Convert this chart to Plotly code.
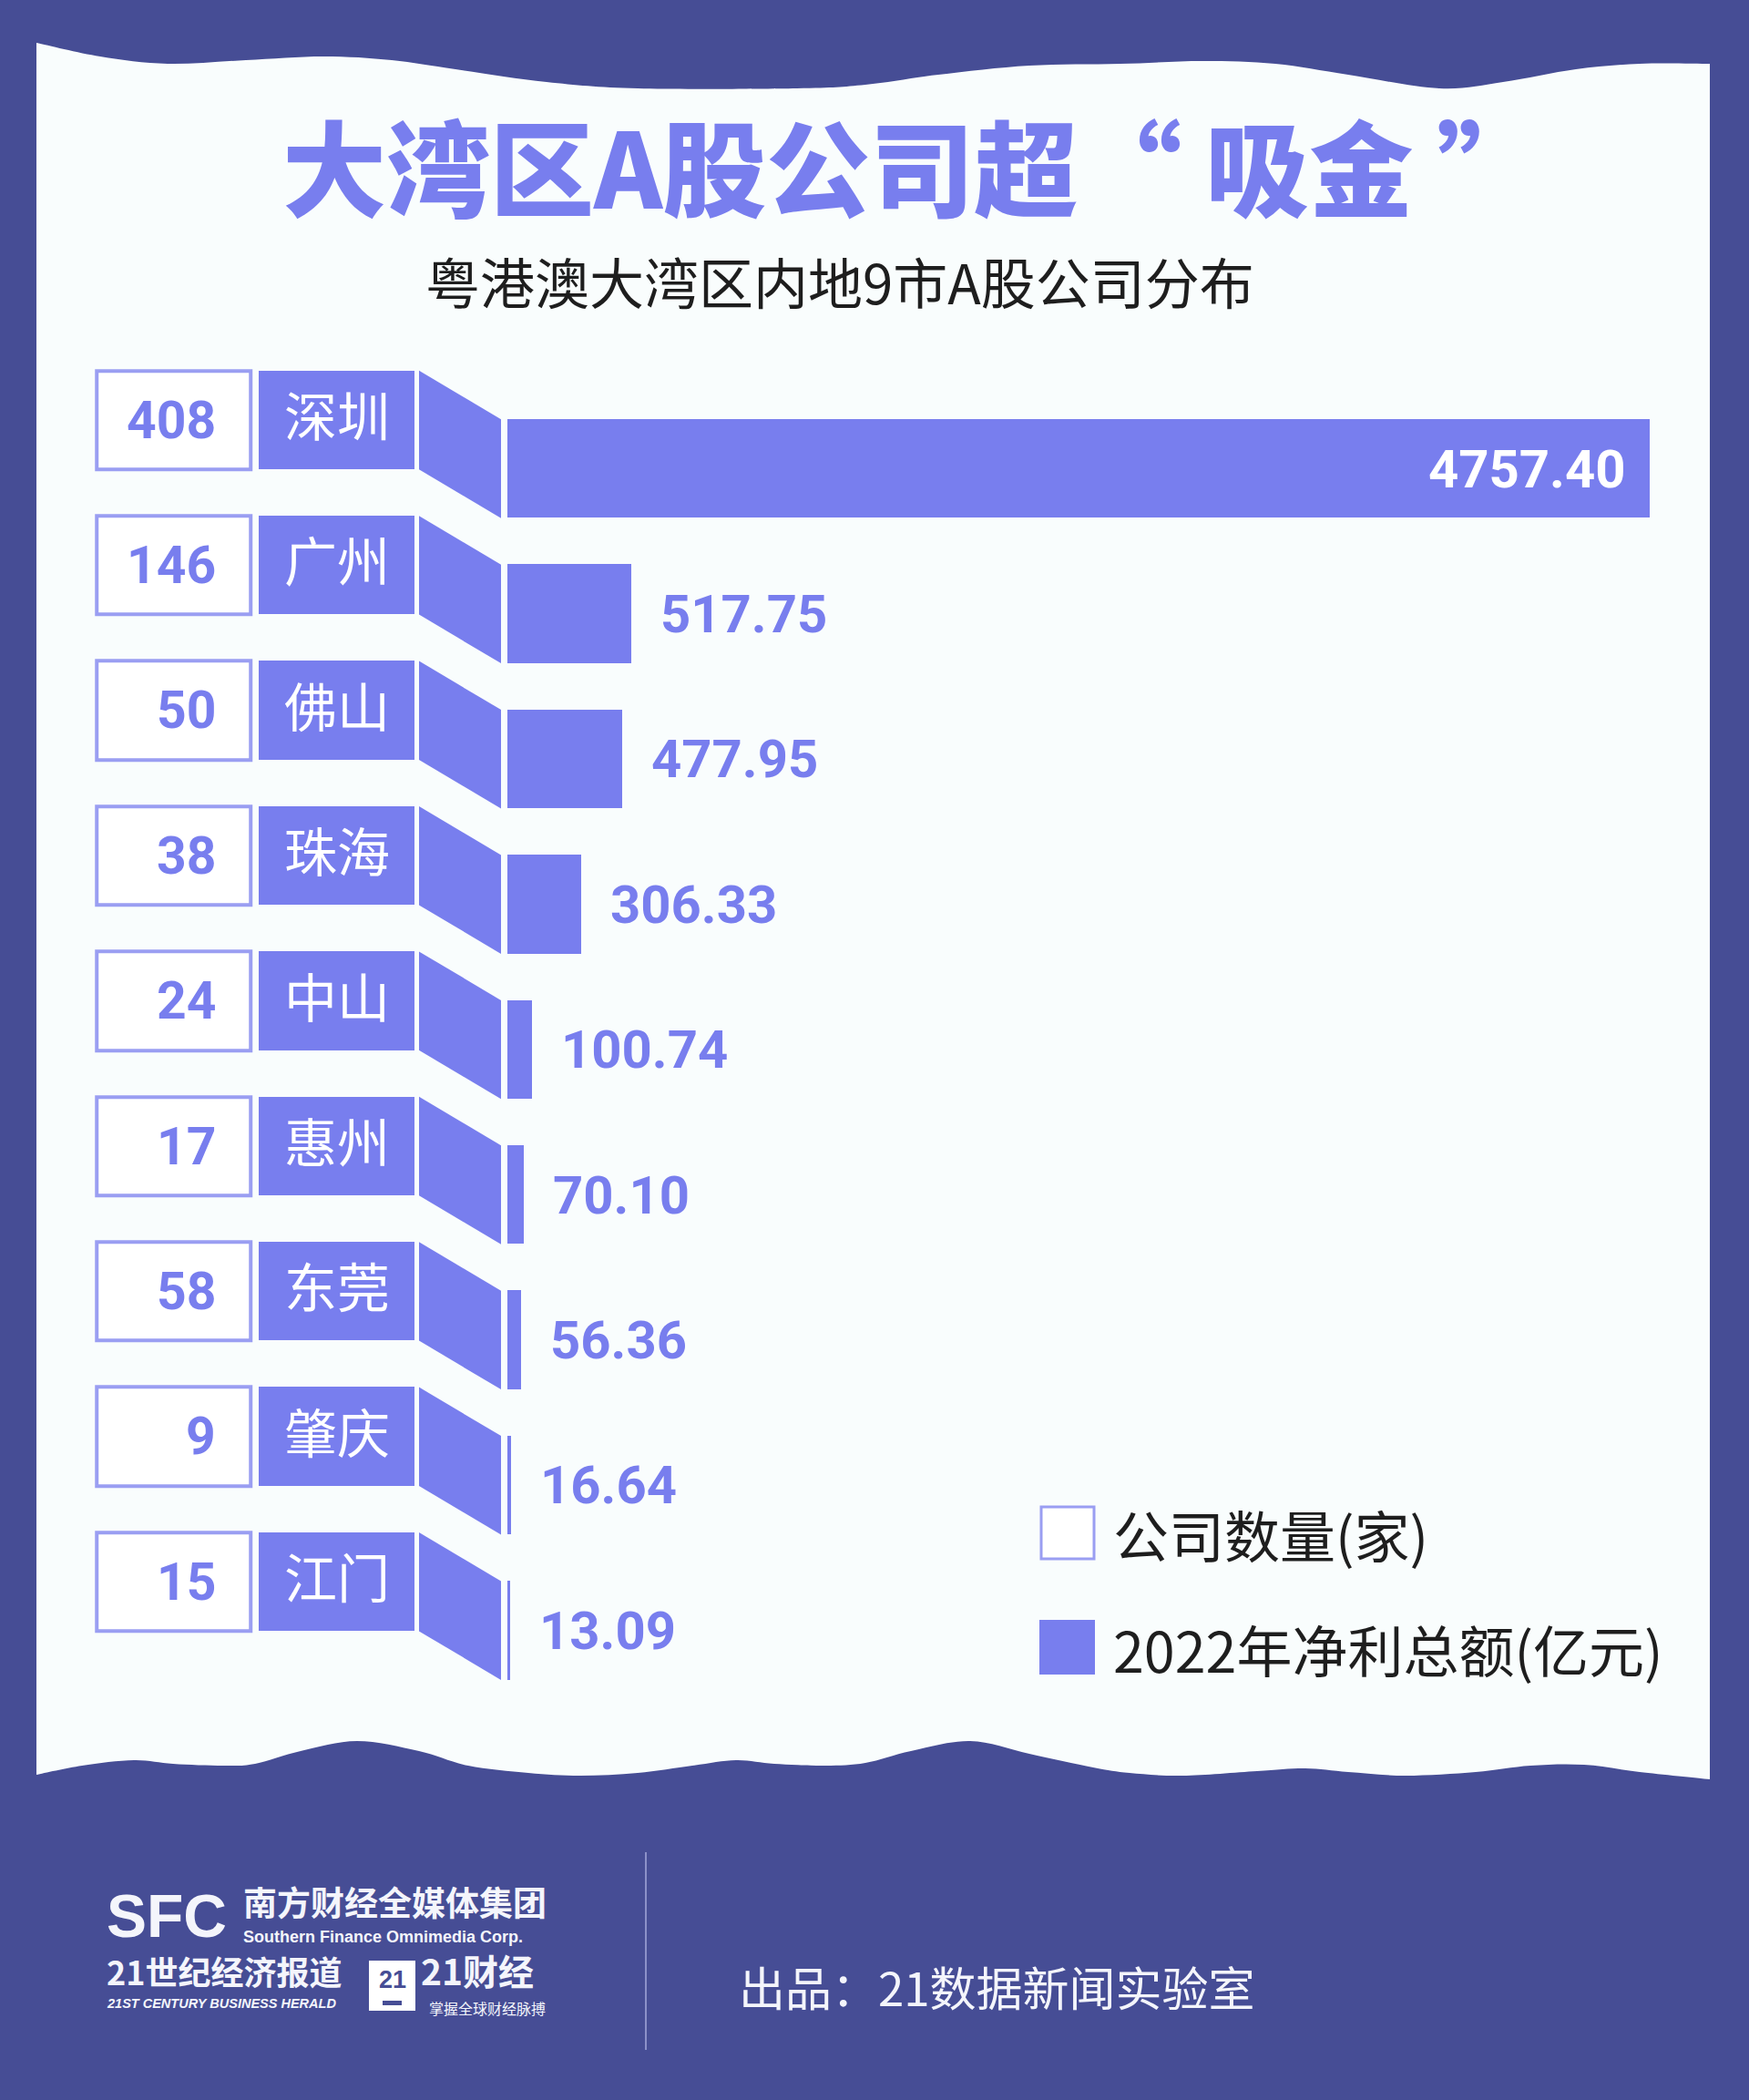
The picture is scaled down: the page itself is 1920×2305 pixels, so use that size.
import plotly.graph_objects as go

# ---------------- data ----------------
cities = ["深圳", "广州", "佛山", "珠海", "中山", "惠州", "东莞", "肇庆", "江门"]
company_counts = [408, 146, 50, 38, 24, 17, 58, 9, 15]
net_profit_2022 = [4757.40, 517.75, 477.95, 306.33, 100.74, 70.10, 56.36, 16.64, 13.09]

title_text = "大湾区A股公司超“ 吸金 ”"
subtitle_text = "粤港澳大湾区内地9市A股公司分布"
legend_labels = ["公司数量(家)", "2022年净利总额(亿元)"]
credit_text = "出品：21数据新闻实验室"

# ---------------- style ----------------
W, H = 1920, 2305
DARK = "#464D95"
PANEL = "#F9FDFD"
BAR = "#787EEE"
BOX_LINE = "#9A9EF2"
TXT = "#1E1E1E"
CJK = "Noto Sans CJK SC"
NUM = "Roboto"


def X(p):
    return p / W


def Y(p):
    return 1 - p / H


# row geometry (pixels)
ROW_PITCH = 159.4
FIRST_CENTER = 461.0
BOX_H = 0.68          # in category units
BAR_SHIFT = 53.5 / ROW_PITCH
y_top_px = FIRST_CENTER - 0.5 * ROW_PITCH
y_bot_px = y_top_px + 9.5 * ROW_PITCH

fig = go.Figure()

# number boxes
fig.add_trace(go.Bar(
    y=cities, x=[1] * len(cities), orientation="h", xaxis="x2", yaxis="y",
    width=BOX_H, marker=dict(color="#FFFFFF", line=dict(color=BOX_LINE, width=4)),
    hoverinfo="skip"))

# city boxes
fig.add_trace(go.Bar(
    y=cities, x=[1] * len(cities), orientation="h", xaxis="x3", yaxis="y",
    width=BOX_H, marker=dict(color=BAR, line=dict(width=0)), hoverinfo="skip"))

# profit bars
fig.add_trace(go.Bar(
    y=cities, x=net_profit_2022, orientation="h", xaxis="x", yaxis="y",
    width=BOX_H, offset=-BOX_H / 2 + BAR_SHIFT,
    marker=dict(color=BAR, line=dict(width=0)), hoverinfo="skip"))

shapes = []


def smooth_path(points):
    """Catmull-Rom through points, returned as SVG cubic segments (paper coords)."""
    segs = []
    n = len(points)
    for i in range(n - 1):
        p0 = points[i - 1] if i > 0 else points[i]
        p1 = points[i]
        p2 = points[i + 1]
        p3 = points[i + 2] if i + 2 < n else points[i + 1]
        c1 = (p1[0] + (p2[0] - p0[0]) / 6, p1[1] + (p2[1] - p0[1]) / 6)
        c2 = (p2[0] - (p3[0] - p1[0]) / 6, p2[1] - (p3[1] - p1[1]) / 6)
        segs.append("C %.5f,%.5f %.5f,%.5f %.5f,%.5f" % (
            X(c1[0]), Y(c1[1]), X(c2[0]), Y(c2[1]), X(p2[0]), Y(p2[1])))
    return " ".join(segs)


top_edge = [(40, 47), (110, 62), (184, 70), (270, 66), (355, 62), (430, 66), (500, 76),
            (600, 90), (700, 97), (875, 97), (950, 93), (1030, 82), (1130, 72),
            (1230, 70), (1320, 67), (1400, 70), (1480, 82), (1580, 97), (1650, 90),
            (1730, 76), (1800, 70), (1877, 70)]
bottom_edge = [(1877, 1953), (1800, 1945), (1739, 1937), (1680, 1938), (1620, 1945),
               (1543, 1949), (1480, 1945), (1433, 1941), (1380, 1944), (1298, 1949),
               (1240, 1946), (1200, 1940), (1130, 1925), (1065, 1911), (1000, 1922),
               (950, 1935), (906, 1938), (850, 1936), (808, 1932), (760, 1938),
               (700, 1946), (637, 1949), (580, 1946), (514, 1938), (460, 1922),
               (392, 1911), (330, 1922), (280, 1936), (245, 1938), (190, 1936),
               (147, 1932), (90, 1938), (40, 1948)]
panel_path = ("M %.5f,%.5f " % (X(top_edge[0][0]), Y(top_edge[0][1])) + smooth_path(top_edge) +
              " L %.5f,%.5f " % (X(bottom_edge[0][0]), Y(bottom_edge[0][1])) +
              smooth_path(bottom_edge) + " Z")
shapes.append(dict(type="path", xref="paper", yref="paper", path=panel_path,
                   fillcolor=PANEL, line=dict(width=0), layer="below"))

# connectors between city box and bar
h = BOX_H / 2
for i, _ in enumerate(cities):
    path = "M %.5f,%.4f L %.5f,%.4f L %.5f,%.4f L %.5f,%.4f Z" % (
        X(460), i - h, X(550), i - h + BAR_SHIFT, X(550), i + h + BAR_SHIFT, X(460), i + h)
    shapes.append(dict(type="path", xref="paper", yref="y", path=path,
                       fillcolor=BAR, line=dict(width=0), layer="above"))

# legend marks
shapes.append(dict(type="rect", xref="paper", yref="paper", x0=X(1143), x1=X(1201),
                   y0=Y(1711), y1=Y(1654), fillcolor="#FFFFFF",
                   line=dict(color=BOX_LINE, width=3)))
shapes.append(dict(type="rect", xref="paper", yref="paper", x0=X(1141), x1=X(1202),
                   y0=Y(1838), y1=Y(1778), fillcolor=BAR, line=dict(width=0)))

# footer divider
shapes.append(dict(type="line", xref="paper", yref="paper", x0=X(709), x1=X(709),
                   y0=Y(2250), y1=Y(2033), line=dict(color="#8C91C9", width=2)))
# "21" logo box
shapes.append(dict(type="rect", xref="paper", yref="paper", x0=X(405), x1=X(456),
                   y0=Y(2207), y1=Y(2152), fillcolor="#FFFFFF", line=dict(width=0)))
shapes.append(dict(type="rect", xref="paper", yref="paper", x0=X(420), x1=X(441),
                   y0=Y(2201), y1=Y(2196), fillcolor=DARK, line=dict(width=0)))

annotations = []

# counts in boxes
for c, n in zip(cities, company_counts):
    annotations.append(dict(xref="x2", yref="y", x=1, y=c, xanchor="right", yanchor="middle",
                            xshift=-36, text=str(n), showarrow=False,
                            font=dict(family=NUM, size=57, color=BAR, weight=700)))

# city names in boxes
for c in cities:
    annotations.append(dict(xref="x3", yref="y", x=0.5, y=c, xanchor="center",
                            yanchor="middle", yshift=7, text=c, showarrow=False,
                            font=dict(family=CJK, size=58, color="#FFFFFF")))

# profit value labels
pmax = max(net_profit_2022)
for c, v in zip(cities, net_profit_2022):
    inside = v > pmax * 0.5
    annotations.append(dict(xref="x", yref="y", x=v, y=c, yshift=-53.5,
                            xanchor="right" if inside else "left",
                            xshift=-25 if inside else 30, yanchor="middle",
                            text="%.2f" % v, showarrow=False,
                            font=dict(family=NUM, size=58, weight=700,
                                      color="#FFFFFF" if inside else BAR)))

# title / subtitle
annotations.append(dict(xref="paper", yref="paper", x=X(1000), y=Y(180), xanchor="center",
                        yanchor="middle", text=title_text, showarrow=False,
                        font=dict(family=CJK, size=114, color=BAR, weight=900)))
annotations.append(dict(xref="paper", yref="paper", x=X(922), y=Y(308), xanchor="center",
                        yanchor="middle", text=subtitle_text, showarrow=False,
                        font=dict(family=CJK, size=60, color=TXT)))

# legend text
annotations.append(dict(xref="paper", yref="paper", x=X(1220), y=Y(1684), xanchor="left",
                        yanchor="middle", text=legend_labels[0], showarrow=False,
                        font=dict(family=CJK, size=61, color=TXT)))
annotations.append(dict(xref="paper", yref="paper", x=X(1220), y=Y(1809), xanchor="left",
                        yanchor="middle", text=legend_labels[1], showarrow=False,
                        font=dict(family=CJK, size=61, color=TXT)))

# footer
WHITE = "#F4F5FB"
footer = [
    dict(x=X(116), y=Y(2103), text="SFC", xanchor="left", yanchor="middle",
         font=dict(family="Liberation Sans", size=66, color=WHITE, weight=900)),
    dict(x=X(266), y=Y(2115), text="南方财经全媒体集团", xanchor="left", yanchor="bottom",
         font=dict(family=CJK, size=37, color=WHITE, weight=700)),
    dict(x=X(266), y=Y(2115), text="Southern Finance Omnimedia Corp.", xanchor="left",
         yanchor="top", font=dict(family="Liberation Sans", size=18, color=WHITE, weight=700)),
    dict(x=X(116), y=Y(2190), text="21世纪经济报道", xanchor="left", yanchor="bottom",
         font=dict(family=CJK, size=36, color=WHITE, weight=700)),
    dict(x=X(116), y=Y(2190), text="21ST CENTURY BUSINESS HERALD", xanchor="left",
         yanchor="top",
         font=dict(family="Liberation Sans", size=14.5, color=WHITE, weight=700,
                   style="italic")),
    dict(x=X(430.5), y=Y(2173), text="21", xanchor="center", yanchor="middle",
         font=dict(family="Liberation Sans", size=27, color=DARK, weight=700)),
    dict(x=X(461), y=Y(2191), text="21财经", xanchor="left", yanchor="bottom",
         font=dict(family=CJK, size=39, color=WHITE, weight=700)),
    dict(x=X(470), y=Y(2191), text="掌握全球财经脉搏", xanchor="left", yanchor="top",
         font=dict(family=CJK, size=16, color=WHITE)),
    dict(x=X(810), y=Y(2180), text=credit_text, xanchor="left", yanchor="middle",
         font=dict(family=CJK, size=51, color=WHITE)),
]
for a in footer:
    a.update(xref="paper", yref="paper", showarrow=False, borderpad=0)
annotations += footer

BOX_PAD = 0.04
bx0, bx1 = 106, 275
bscale = bx1 - bx0
fig.update_layout(
    width=W, height=H, margin=dict(l=0, r=0, t=0, b=0),
    paper_bgcolor=DARK, plot_bgcolor="rgba(0,0,0,0)",
    showlegend=False, hovermode=False, bargap=0,
    shapes=shapes, annotations=annotations,
    yaxis=dict(type="category", categoryorder="array", categoryarray=cities,
               range=[9.0, -0.5], domain=[Y(y_bot_px), Y(y_top_px)], visible=False,
               fixedrange=True),
    xaxis=dict(domain=[X(557), X(1811)], range=[0, pmax], anchor="y", visible=False,
               fixedrange=True),
    xaxis2=dict(domain=[X(bx0 - BOX_PAD * bscale), X(bx1 + BOX_PAD * bscale)],
                range=[-BOX_PAD, 1 + BOX_PAD], anchor="y", visible=False, fixedrange=True),
    xaxis3=dict(domain=[X(284), X(455)], range=[0, 1], anchor="y", visible=False,
                fixedrange=True),
)

fig.write_html("out.html", config={"displayModeBar": False})
